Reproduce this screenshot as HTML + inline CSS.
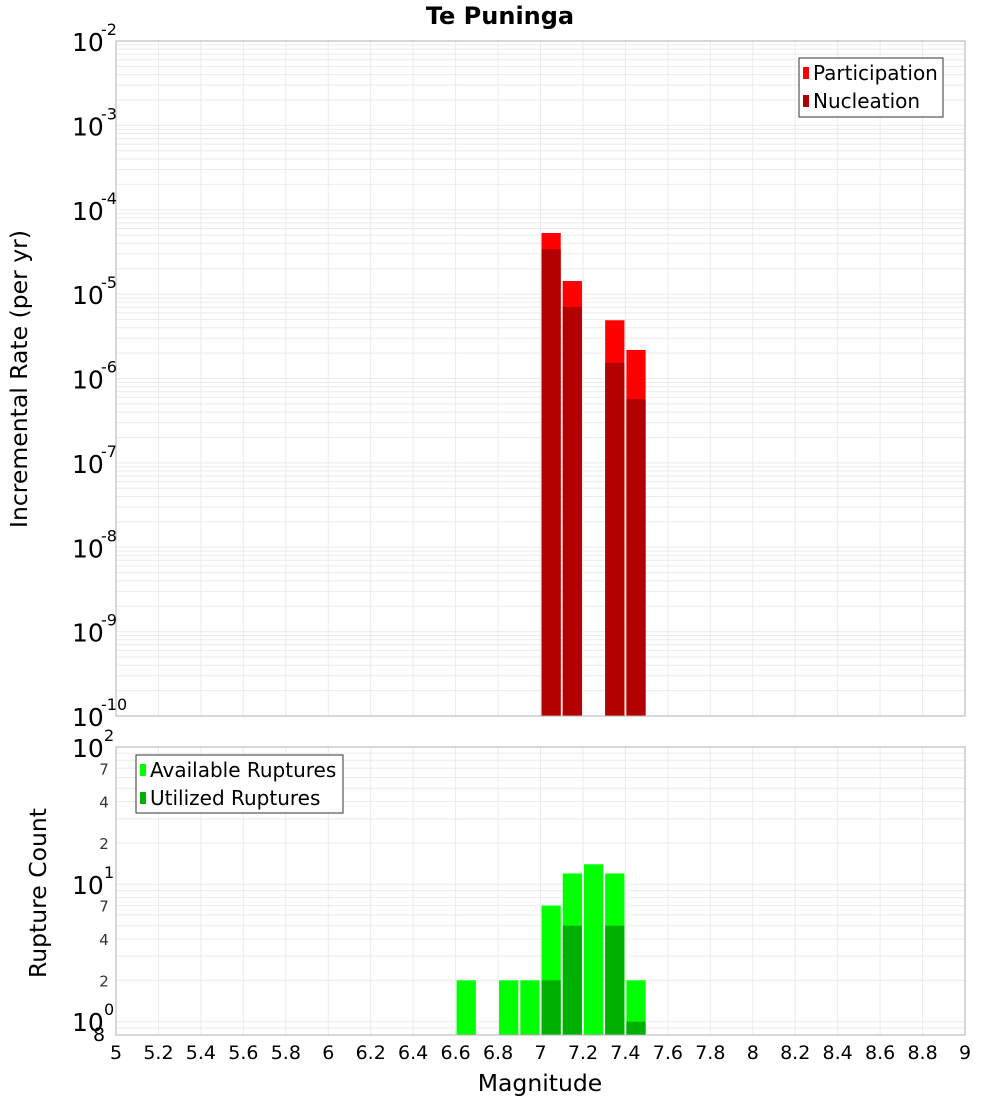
<!DOCTYPE html>
<html><head><meta charset="utf-8"><style>
body{margin:0;background:#fff;}
svg{display:block;font-family:"DejaVu Sans","Liberation Sans",sans-serif;}
</style></head><body>
<svg id="c" width="1000" height="1100" xmlns="http://www.w3.org/2000/svg"></svg>
<script>
const xTicks=[5,5.2,5.4,5.6,5.8,6,6.2,6.4,6.6,6.8,7,7.2,7.4,7.6,7.8,8,8.2,8.4,8.6,8.8,9];
const rateMags=[7.05,7.15,7.35,7.45];
const participation=[5.3e-5,1.43e-5,4.9e-6,2.18e-6];
const nucleation=[3.4e-5,7.05e-6,1.53e-6,5.7e-7];
const countMags=[6.65,6.85,6.95,7.05,7.15,7.25,7.35,7.45];
const available=[2,2,2,7,12,14,12,2];
const utilized=[0,0,0,2,5,0,5,1];
const topDecades=[-2,-3,-4,-5,-6,-7,-8,-9,-10];
const botMinor=[2,4,7];

const svg=document.getElementById('c');
const NS='http://www.w3.org/2000/svg';
function el(t,a,p){const e=document.createElementNS(NS,t);for(const k in a)e.setAttribute(k,a[k]);(p||svg).appendChild(e);return e;}
const X0=116,X1=965;
const xs=m=>X0+(m-5)/(9-5)*(X1-X0);
const T0=41,T1=716;
const yT=v=>T0+(-2-Math.log10(v))/8*(T1-T0);
const B0=747,B1=1035;
const bMin=Math.log10(0.8),bMax=2;
const yB=v=>B1-(Math.log10(v)-bMin)/(bMax-bMin)*(B1-B0);

function frame(y0,y1,name){
  const g=el('g',{});
  
  
  xTicks.forEach(t=>{const x=xs(t);el('line',{x1:x,x2:x,y1:y0,y2:y1,stroke:'#ebebeb','stroke-width':1},g);});
  return g;
}
const gt=frame(T0,T1,'top-plot');
for(let d=-10;d<-2;d++)for(let k=1;k<10;k++){const y=yT(k*Math.pow(10,d));el('line',{x1:X0,x2:X1,y1:y,y2:y,stroke:'#ebebeb'},gt);}
const gb=frame(B0,B1,'bottom-plot');
[0.8,0.9,1,2,3,4,5,6,7,8,9,10,20,30,40,50,60,70,80,90,100].forEach(v=>{const y=yB(v);el('line',{x1:X0,x2:X1,y1:y,y2:y,stroke:'#ebebeb'},gb);});

const bw=(xs(5.1)-xs(5))-2;
function bar(m,v,yf,base,fill,name){
  const x=xs(m-0.05)+1,y=yf(v);
  const r=el('rect',{x:x,y:y,width:bw,height:base-y,fill:fill});
  
  
}
rateMags.forEach((m,i)=>bar(m,participation[i],yT,T1,'#ff0000','participation-bar'));
rateMags.forEach((m,i)=>bar(m,nucleation[i],yT,T1,'#b30000','nucleation-bar'));
countMags.forEach((m,i)=>{if(available[i]>0)bar(m,available[i],yB,B1,'#00ff00','available-bar');});
countMags.forEach((m,i)=>{if(utilized[i]>0)bar(m,utilized[i],yB,B1,'#00b000','utilized-bar');});

el('rect',{x:X0,y:T0,width:X1-X0,height:T1-T0,fill:'none',stroke:'#b0b0b0'});
el('rect',{x:X0,y:B0,width:X1-X0,height:B1-B0,fill:'none',stroke:'#b0b0b0'});

function txt(x,y,s,a,name){const t=el('text',Object.assign({x:x,y:y},a));t.textContent=s;return t;}
txt(500,24,'Te Puninga',{'text-anchor':'middle','font-size':24,'font-weight':'bold'},'chart-title');
topDecades.forEach(d=>{
  const y=yT(Math.pow(10,d));
  txt(72,y+10,'10',{'font-size':25},'y-tick-label');
  txt(101,y-6,String(d),{'font-size':16},'y-tick-exponent');
});
[[0,1021],[1,884],[2,747]].forEach(([e,y])=>{
  txt(72,y+10,'10',{'font-size':25},'y2-tick-label');
  txt(104,y-6,String(e),{'font-size':16},'y2-tick-exponent');
});
txt(93,1041,'8',{'font-size':19},'y2-tick-label');
[1,10].forEach(dec=>botMinor.forEach(k=>{const y=yB(k*dec);txt(104,y+6,String(k),{'font-size':15,'text-anchor':'middle','fill':'#333'},'y2-minor-label');}));
xTicks.forEach(t=>txt(xs(t),1059,String(t),{'font-size':19,'text-anchor':'middle'},'x-tick-label'));
txt(540,1091,'Magnitude',{'font-size':23.5,'text-anchor':'middle'},'x-axis-title');
txt(0,0,'Incremental Rate (per yr)',{'font-size':23.5,'text-anchor':'middle',transform:'translate(27,379) rotate(-90)'},'y-axis-title');
txt(0,0,'Rupture Count',{'font-size':23.5,'text-anchor':'middle',transform:'translate(46,893) rotate(-90)'},'y2-axis-title');

function legend(x,y,w,h,items,name){
  const g=el('g',{});
  el('rect',{x:x,y:y,width:w,height:h,fill:'#fff',stroke:'#333'},g);
  items.forEach((it,i)=>{
    const cy=y+15+i*28;
    el('rect',{x:x+4,y:cy-6,width:6,height:12,fill:it[1]},g);
    const t=el('text',{x:x+14,y:cy+7,'font-size':20},g);t.textContent=it[0];
  });
}
legend(799,58,144,59,[['Participation','#ff0000'],['Nucleation','#b30000']],'top-legend');
legend(136,755,207,58,[['Available Ruptures','#00ff00'],['Utilized Ruptures','#00b000']],'bottom-legend');
</script>
</body></html>
